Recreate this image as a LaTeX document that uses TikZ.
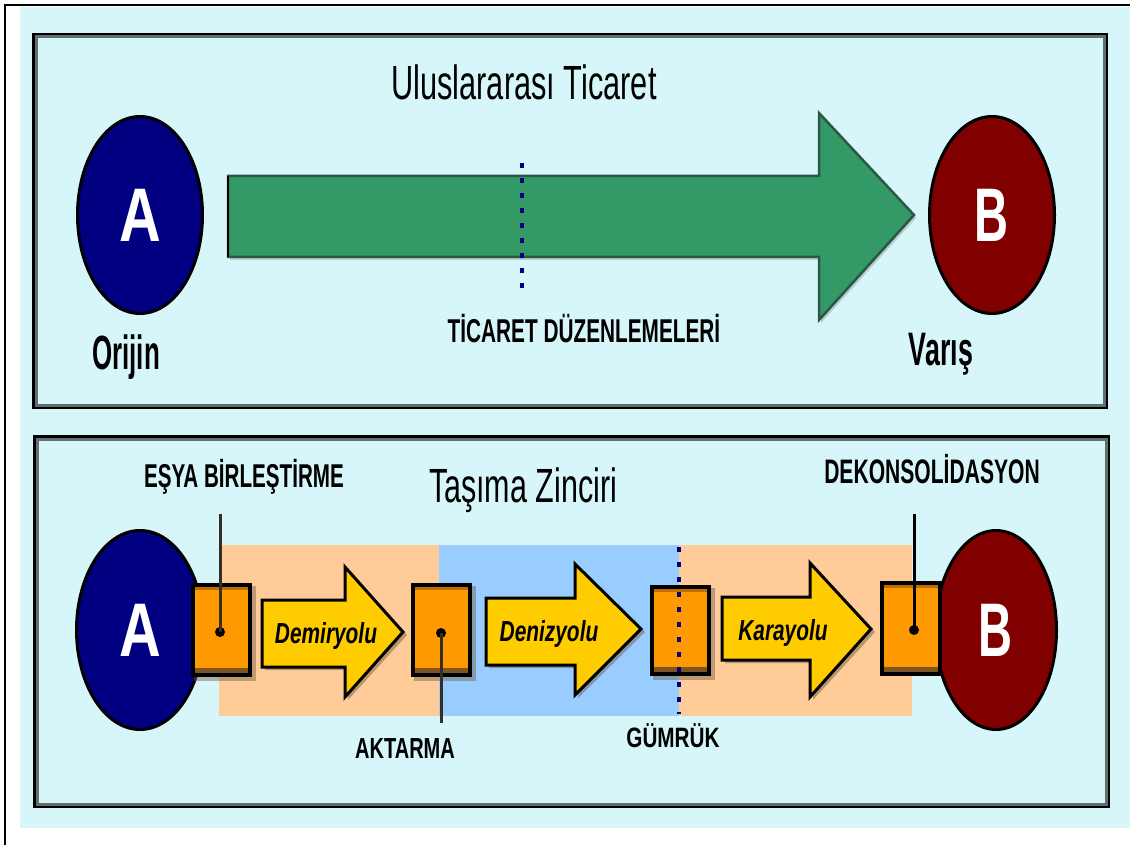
\documentclass[tikz,border=0pt]{standalone}
\usepackage{graphicx}
\usepackage{fontspec}
\setmainfont{Liberation Sans}
\usetikzlibrary{shapes.geometric}

\definecolor{bgcyan}{RGB}{215,246,249}
\definecolor{panelgray}{RGB}{95,112,112}
\definecolor{arrowgreen}{RGB}{51,153,102}
\definecolor{greenedge}{RGB}{42,88,68}
\definecolor{navyA}{RGB}{0,0,128}
\definecolor{maroonB}{RGB}{128,0,0}
\definecolor{boxorange}{RGB}{255,153,0}
\definecolor{stripdark}{RGB}{190,110,0}
\definecolor{stripbrown}{RGB}{125,85,35}
\definecolor{arrowyellow}{RGB}{255,204,0}
\definecolor{peach}{RGB}{255,204,153}
\definecolor{seablue}{RGB}{153,204,255}
\definecolor{dotblue}{RGB}{0,0,128}
\definecolor{leadercol}{RGB}{55,45,35}
\definecolor{shadowcol}{RGB}{110,95,70}

% condensed text: horizontal squeeze, font size, text
\newcommand\sqz[3]{\scalebox{#1}[1]{\fontsize{#2}{#2}\selectfont #3}}

\tikzset{
  panelouter/.style={draw=black, line width=2.5pt},
  panelinner/.style={draw=panelgray, line width=3pt},
  place/.style={ellipse, draw=black, line width=3pt, inner sep=0pt, text=white},
  lbl/.style={anchor=base, inner sep=0pt, text=black},
  stopbox/.style={rectangle, draw=black, line width=4pt, fill=boxorange, inner sep=0pt,
    path picture={
      \fill[stripdark] (path picture bounding box.north west) rectangle ([yshift=-5pt]path picture bounding box.north east);
      \fill[stripbrown] ([yshift=7pt]path picture bounding box.south west) rectangle (path picture bounding box.south east);
    }},
  boxshadow/.style={fill=shadowcol, opacity=0.45},
  yarrow/.style={fill=arrowyellow, draw=black, line width=3pt, line join=miter},
  garrow/.style={fill=arrowgreen, draw=greenedge, line width=2.5pt, line join=miter},
  dotline/.style={draw=dotblue, line width=3.5pt, dash pattern=on 5pt off 10pt},
  leader/.style={draw=leadercol, line width=3pt},
  joindot/.style={circle, fill=black, minimum size=10pt, inner sep=0pt},
}

\begin{document}
\begin{tikzpicture}[x=1pt,y=-1pt]
\useasboundingbox (0,0) rectangle (1130,845);

% page ground and outer frame
\fill[white] (0,0) rectangle (1130,845);
\fill[bgcyan] (20,7) rectangle (1130,828);
\draw[black, line width=2pt] (5,845) -- (5,5) -- (1130,5);

% ---------- upper panel: international trade ----------
\draw[panelouter] (33.25,34.25) rectangle (1106.75,407.75);
\draw[panelinner] (36,37) rectangle (1104,405);

\node[lbl] (title1) at (524,100) {\sqz{0.64}{48pt}{Uluslararası Ticaret}};

% trade arrow
\fill[gray, opacity=0.35] (230,179) -- (821,179) -- (821,116) -- (916,218) -- (821,323) -- (821,260) -- (230,260) -- cycle;
\draw[garrow] (228,176) -- (819,176) -- (819,113) -- (914,215) -- (819,320) -- (819,257) -- (228,257) -- cycle;
\draw[black, line width=2.5pt] (228,176) -- (228,257);

\coordinate (tdtop) at (522,163);
\coordinate (tdbot) at (522,296);
\draw[dotline] (tdtop) -- (tdbot);

\node[place, fill=navyA, minimum width=125pt, minimum height=197pt] (A1) at (140,215) {\sqz{0.76}{76pt}{\bfseries A}};
\node[place, fill=maroonB, minimum width=125pt, minimum height=197pt] (B1) at (992,215) {\sqz{0.62}{76pt}{\bfseries B}};

\node[lbl] (orijin) at (126,369) {\sqz{0.54}{48pt}{\bfseries Orijin}};
\node[lbl] (varis) at (941,365) {\sqz{0.57}{47pt}{\bfseries Varış}};
\node[lbl] (duzen) at (584,342) {\sqz{0.63}{33pt}{\bfseries TİCARET DÜZENLEMELERİ}};

% ---------- lower panel: transport chain ----------
\draw[panelouter] (34.25,436.25) rectangle (1108.75,806.75);
\draw[panelinner] (37,439) rectangle (1106,804);

\node[lbl] (title2) at (523,502) {\sqz{0.635}{48pt}{Taşıma Zinciri}};

% legs of the chain
\fill[peach] (219,545) rectangle (439,716);
\fill[seablue] (439,545) rectangle (679,716);
\fill[peach] (679,545) rectangle (912,716);

\node[place, fill=navyA, minimum width=127pt, minimum height=199pt] (A2) at (140,630) {\sqz{0.76}{76pt}{\bfseries A}};
\node[place, fill=maroonB, minimum width=121pt, minimum height=199pt] (B2) at (996,630) {\sqz{0.62}{76pt}{\bfseries B}};

% mode arrows
\fill[shadowcol, opacity=0.5] (265,603) -- (348,603) -- (348,570) -- (407,635) -- (348,700) -- (348,670) -- (265,670) -- cycle;
\draw[yarrow] (262,600) -- (345,600) -- (345,567) -- (403,632) -- (345,697) -- (345,667) -- (262,667) -- cycle;
\fill[shadowcol, opacity=0.5] (489,601) -- (578,601) -- (578,567) -- (645,632) -- (578,698) -- (578,668) -- (489,668) -- cycle;
\draw[yarrow] (486,598) -- (575,598) -- (575,564) -- (641,629) -- (575,695) -- (575,665) -- (486,665) -- cycle;
\fill[shadowcol, opacity=0.5] (725,600) -- (813,600) -- (813,566) -- (875,632) -- (813,700) -- (813,663) -- (725,663) -- cycle;
\draw[yarrow] (722,597) -- (810,597) -- (810,563) -- (871,629) -- (810,697) -- (810,660) -- (722,660) -- cycle;

\node[lbl] (demir) at (326,643) {\sqz{0.72}{29pt}{\bfseries\itshape Demiryolu}};
\node[lbl] (deniz) at (549,641) {\sqz{0.72}{29pt}{\bfseries\itshape Denizyolu}};
\node[lbl] (kara) at (783,640) {\sqz{0.72}{29pt}{\bfseries\itshape Karayolu}};

% transfer points
\fill[boxshadow] (194,586) rectangle (256,681);
\node[stopbox, minimum width=57pt, minimum height=90pt] (s1) at (221.5,630) {};
\fill[boxshadow] (414,586) rectangle (476,681);
\node[stopbox, minimum width=57pt, minimum height=90pt] (s2) at (441.5,630) {};
\fill[boxshadow] (653,588) rectangle (715,680);
\node[stopbox, minimum width=57pt, minimum height=87pt] (s3) at (680.5,630.5) {};
\node[stopbox, minimum width=58pt, minimum height=91pt] (s4) at (911,628.5) {};

\coordinate (cutop) at (679,547);
\coordinate (cubot) at (679,714);
\draw[dotline] (cutop) -- (cubot);

% leaders to the labelled points
\node[joindot] (p1) at (220,632) {};
\node[joindot] (p2) at (441,633) {};
\node[joindot] (p4) at (914,630) {};
\coordinate (e1) at (220,514);
\coordinate (e2) at (441,723);
\coordinate (e4) at (914,514);
\draw[leader] (e1) -- (p1.center);
\draw[leader] (p2.center) -- (e2);
\draw[leader, draw=black] (e4) -- (p4.center);

\node[lbl] (esya) at (244,487) {\sqz{0.625}{33pt}{\bfseries EŞYA BİRLEŞTİRME}};
\node[lbl] (aktar) at (405,758) {\sqz{0.69}{29pt}{\bfseries AKTARMA}};
\node[lbl] (gumruk) at (673,747) {\sqz{0.74}{28pt}{\bfseries GÜMRÜK}};
\node[lbl] (dekon) at (932,483) {\sqz{0.62}{34pt}{\bfseries DEKONSOLİDASYON}};
\end{tikzpicture}
\end{document}
